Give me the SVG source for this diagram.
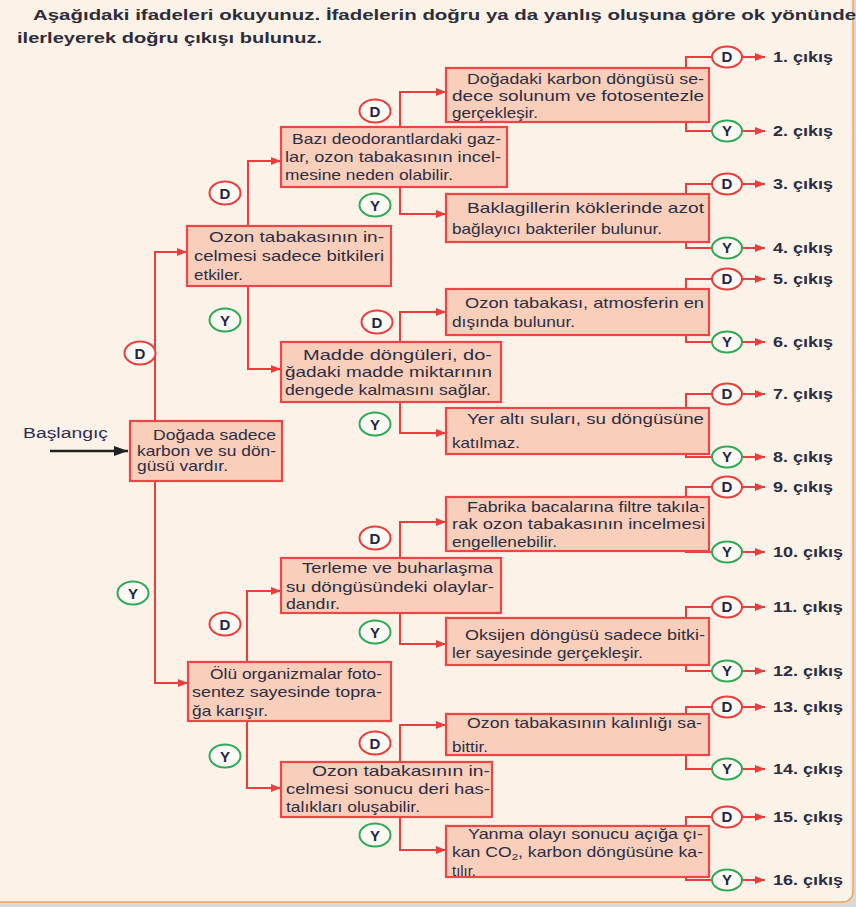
<svg xmlns="http://www.w3.org/2000/svg" width="856" height="907" viewBox="0 0 856 907">
<style>
.box{fill:#f9cfbc;stroke:#ee4646;stroke-width:2.2}
.t{font-family:"Liberation Sans",Arial,sans-serif;font-size:14.5px;fill:#2b2d42}
.ti{font-family:"Liberation Sans",Arial,sans-serif;font-size:15px;font-weight:bold;fill:#2d2d3a}
.ex{font-family:"Liberation Sans",Arial,sans-serif;font-size:15px;font-weight:bold;fill:#2b2d42}
.bl{font-family:"Liberation Sans",Arial,sans-serif;font-size:15px;font-weight:bold;fill:#1e2746;text-anchor:middle}
.c{fill:none;stroke:#ec3d3d;stroke-width:2}
.bd{fill:#fffaf4;stroke:#ec3d3d;stroke-width:2}
.by{fill:#fffaf4;stroke:#2eaa58;stroke-width:2}
</style>
<defs>
<marker id="ar" viewBox="0 0 10 8" refX="10" refY="4" markerWidth="10" markerHeight="8" markerUnits="userSpaceOnUse" orient="auto"><path d="M0,0 L10,4 L0,8 z" fill="#ec3d3d"/></marker>
<marker id="ab" viewBox="0 0 14 10" refX="14" refY="5" markerWidth="14" markerHeight="10" markerUnits="userSpaceOnUse" orient="auto"><path d="M0,0 L14,5 L0,10 z" fill="#222"/></marker>
</defs>
<rect x="0" y="0" width="856" height="907" fill="#d9d9d9"/>
<rect x="-10" y="-10" width="863" height="912" rx="10" fill="#fdf2e8" stroke="#f2a35e" stroke-width="1.5"/>

<g id="title">
<text class="ti" x="33" y="20" textLength="823" lengthAdjust="spacingAndGlyphs">Aşağıdaki ifadeleri okuyunuz. İfadelerin doğru ya da yanlış oluşuna göre ok yönünde</text>
<text class="ti" x="17" y="43" textLength="305" lengthAdjust="spacingAndGlyphs">ilerleyerek doğru çıkışı bulunuz.</text>
</g>

<g id="connectors">
<path d="M50,451 H128" fill="none" stroke="#222" stroke-width="2.5" marker-end="url(#ab)"/>
<path class="c" d="M155,421 V252 H187" marker-end="url(#ar)"/>
<path class="c" d="M155,481 V683 H188" marker-end="url(#ar)"/>
<path class="c" d="M248,226 V161 H281" marker-end="url(#ar)"/>
<path class="c" d="M248,286 V369 H281" marker-end="url(#ar)"/>
<path class="c" d="M247,662 V591 H281" marker-end="url(#ar)"/>
<path class="c" d="M247,721 V788 H281" marker-end="url(#ar)"/>
<path class="c" d="M400,127 V92 H446" marker-end="url(#ar)"/>
<path class="c" d="M400,187 V214 H446" marker-end="url(#ar)"/>
<path class="c" d="M400,342 V312 H446" marker-end="url(#ar)"/>
<path class="c" d="M400,402 V433 H446" marker-end="url(#ar)"/>
<path class="c" d="M400,558 V522 H446" marker-end="url(#ar)"/>
<path class="c" d="M400,613 V644 H446" marker-end="url(#ar)"/>
<path class="c" d="M400,762 V725 H446" marker-end="url(#ar)"/>
<path class="c" d="M400,817 V850 H446" marker-end="url(#ar)"/>
<path class="c" d="M686,68 V57 H712 M686,122 V131 H712"/>
<path class="c" d="M686,194 V184 H712 M686,242 V248 H712"/>
<path class="c" d="M686,289 V279 H712 M686,335 V342 H712"/>
<path class="c" d="M686,408 V394 H712 M686,454 V457 H712"/>
<path class="c" d="M686,497 V487 H712 M686,551 V552 H712"/>
<path class="c" d="M686,618 V607 H712 M686,665 V671 H712"/>
<path class="c" d="M686,714 V707 H712 M686,755 V769 H712"/>
<path class="c" d="M686,826 V817 H712 M686,877 V880 H712"/>
<path class="c" d="M742,57 H765" marker-end="url(#ar)"/>
<path class="c" d="M742,131 H765" marker-end="url(#ar)"/>
<path class="c" d="M742,184 H765" marker-end="url(#ar)"/>
<path class="c" d="M742,248 H765" marker-end="url(#ar)"/>
<path class="c" d="M742,279 H765" marker-end="url(#ar)"/>
<path class="c" d="M742,342 H765" marker-end="url(#ar)"/>
<path class="c" d="M742,394 H765" marker-end="url(#ar)"/>
<path class="c" d="M742,457 H765" marker-end="url(#ar)"/>
<path class="c" d="M742,487 H765" marker-end="url(#ar)"/>
<path class="c" d="M742,552 H765" marker-end="url(#ar)"/>
<path class="c" d="M742,607 H765" marker-end="url(#ar)"/>
<path class="c" d="M742,671 H765" marker-end="url(#ar)"/>
<path class="c" d="M742,707 H765" marker-end="url(#ar)"/>
<path class="c" d="M742,769 H765" marker-end="url(#ar)"/>
<path class="c" d="M742,817 H765" marker-end="url(#ar)"/>
<path class="c" d="M742,880 H765" marker-end="url(#ar)"/>
</g>

<g id="start">
<text x="23" y="438" font-family="Liberation Sans, Arial, sans-serif" font-size="15.5" fill="#2b2d52" textLength="85" lengthAdjust="spacingAndGlyphs">Başlangıç</text>
</g>

<g id="n0">
<rect class="box" x="130" y="421" width="152" height="60"/>
<text class="t" x="153" y="440" textLength="123" lengthAdjust="spacingAndGlyphs">Doğada sadece</text>
<text class="t" x="137" y="456" textLength="139" lengthAdjust="spacingAndGlyphs">karbon ve su dön-</text>
<text class="t" x="137" y="471" textLength="91" lengthAdjust="spacingAndGlyphs">güsü vardır.</text>
</g>
<g id="n1">
<rect class="box" x="187" y="226" width="204" height="60"/>
<text class="t" x="209" y="242" textLength="175" lengthAdjust="spacingAndGlyphs">Ozon tabakasının in-</text>
<text class="t" x="194" y="261" textLength="190" lengthAdjust="spacingAndGlyphs">celmesi sadece bitkileri</text>
<text class="t" x="194" y="280" textLength="49" lengthAdjust="spacingAndGlyphs">etkiler.</text>
</g>
<g id="n2">
<rect class="box" x="281" y="127" width="226" height="60"/>
<text class="t" x="292" y="144" textLength="209" lengthAdjust="spacingAndGlyphs">Bazı deodorantlardaki gaz-</text>
<text class="t" x="285" y="162" textLength="216" lengthAdjust="spacingAndGlyphs">lar, ozon tabakasının incel-</text>
<text class="t" x="285" y="180" textLength="168" lengthAdjust="spacingAndGlyphs">mesine neden olabilir.</text>
</g>
<g id="n3">
<rect class="box" x="446" y="68" width="263" height="54"/>
<text class="t" x="467" y="84" textLength="237" lengthAdjust="spacingAndGlyphs">Doğadaki karbon döngüsü se-</text>
<text class="t" x="452" y="101" textLength="252" lengthAdjust="spacingAndGlyphs">dece solunum ve fotosentezle</text>
<text class="t" x="452" y="118" textLength="86" lengthAdjust="spacingAndGlyphs">gerçekleşir.</text>
</g>
<g id="n4">
<rect class="box" x="446" y="194" width="263" height="48"/>
<text class="t" x="467" y="213" textLength="237" lengthAdjust="spacingAndGlyphs">Baklagillerin köklerinde azot</text>
<text class="t" x="452" y="234" textLength="210" lengthAdjust="spacingAndGlyphs">bağlayıcı bakteriler bulunur.</text>
</g>
<g id="n5">
<rect class="box" x="281" y="342" width="220" height="60"/>
<text class="t" x="303" y="360" textLength="189" lengthAdjust="spacingAndGlyphs">Madde döngüleri, do-</text>
<text class="t" x="285" y="377" textLength="207" lengthAdjust="spacingAndGlyphs">ğadaki madde miktarının</text>
<text class="t" x="285" y="395" textLength="206" lengthAdjust="spacingAndGlyphs">dengede kalmasını sağlar.</text>
</g>
<g id="n6">
<rect class="box" x="446" y="289" width="263" height="46"/>
<text class="t" x="465" y="308" textLength="239" lengthAdjust="spacingAndGlyphs">Ozon tabakası, atmosferin en</text>
<text class="t" x="452" y="327" textLength="123" lengthAdjust="spacingAndGlyphs">dışında bulunur.</text>
</g>
<g id="n7">
<rect class="box" x="446" y="408" width="263" height="46"/>
<text class="t" x="467" y="424" textLength="237" lengthAdjust="spacingAndGlyphs">Yer altı suları, su döngüsüne</text>
<text class="t" x="452" y="448" textLength="68" lengthAdjust="spacingAndGlyphs">katılmaz.</text>
</g>
<g id="n8">
<rect class="box" x="188" y="662" width="203" height="59"/>
<text class="t" x="210" y="679" textLength="172" lengthAdjust="spacingAndGlyphs">Ölü organizmalar foto-</text>
<text class="t" x="192" y="697" textLength="190" lengthAdjust="spacingAndGlyphs">sentez sayesinde topra-</text>
<text class="t" x="192" y="716" textLength="76" lengthAdjust="spacingAndGlyphs">ğa karışır.</text>
</g>
<g id="n9">
<rect class="box" x="281" y="558" width="220" height="55"/>
<text class="t" x="302" y="573" textLength="191" lengthAdjust="spacingAndGlyphs">Terleme ve buharlaşma</text>
<text class="t" x="286" y="592" textLength="208" lengthAdjust="spacingAndGlyphs">su döngüsündeki olaylar-</text>
<text class="t" x="286" y="609" textLength="54" lengthAdjust="spacingAndGlyphs">dandır.</text>
</g>
<g id="n10">
<rect class="box" x="446" y="497" width="263" height="54"/>
<text class="t" x="467" y="512" textLength="238" lengthAdjust="spacingAndGlyphs">Fabrika bacalarına filtre takıla-</text>
<text class="t" x="452" y="529" textLength="253" lengthAdjust="spacingAndGlyphs">rak ozon tabakasının incelmesi</text>
<text class="t" x="452" y="547" textLength="105" lengthAdjust="spacingAndGlyphs">engellenebilir.</text>
</g>
<g id="n11">
<rect class="box" x="446" y="618" width="263" height="47"/>
<text class="t" x="465" y="640" textLength="240" lengthAdjust="spacingAndGlyphs">Oksijen döngüsü sadece bitki-</text>
<text class="t" x="452" y="658" textLength="191" lengthAdjust="spacingAndGlyphs">ler sayesinde gerçekleşir.</text>
</g>
<g id="n12">
<rect class="box" x="281" y="762" width="211" height="55"/>
<text class="t" x="312" y="776" textLength="178" lengthAdjust="spacingAndGlyphs">Ozon tabakasının in-</text>
<text class="t" x="286" y="794" textLength="204" lengthAdjust="spacingAndGlyphs">celmesi sonucu deri has-</text>
<text class="t" x="286" y="812" textLength="134" lengthAdjust="spacingAndGlyphs">talıkları oluşabilir.</text>
</g>
<g id="n13">
<rect class="box" x="446" y="714" width="263" height="41"/>
<text class="t" x="467" y="728" textLength="235" lengthAdjust="spacingAndGlyphs">Ozon tabakasının kalınlığı sa-</text>
<text class="t" x="452" y="752" textLength="36" lengthAdjust="spacingAndGlyphs">bittir.</text>
</g>
<g id="n14">
<rect class="box" x="446" y="826" width="263" height="51"/>
<text class="t" x="468" y="839" textLength="235" lengthAdjust="spacingAndGlyphs">Yanma olayı sonucu açığa çı-</text>
<text class="t" x="452" y="857" textLength="251" lengthAdjust="spacingAndGlyphs">kan CO<tspan font-size="9.5" dy="3">2</tspan><tspan dy="-3">, karbon döngüsüne ka-</tspan></text>
<text class="t" x="452" y="876" textLength="24" lengthAdjust="spacingAndGlyphs">tılır.</text>
</g>

<g id="badges">
<g id="b-d0"><ellipse class="bd" cx="140" cy="353" rx="15.5" ry="11.5"/><text class="bl" x="140" y="358.5">D</text></g>
<g id="b-y0"><ellipse class="by" cx="133" cy="593" rx="15.5" ry="11.5"/><text class="bl" x="133" y="598.5">Y</text></g>
<g id="b-d1"><ellipse class="bd" cx="225" cy="193" rx="15.5" ry="11.5"/><text class="bl" x="225" y="198.5">D</text></g>
<g id="b-y1"><ellipse class="by" cx="225" cy="320" rx="15.5" ry="11.5"/><text class="bl" x="225" y="325.5">Y</text></g>
<g id="b-d2"><ellipse class="bd" cx="375" cy="111" rx="15.5" ry="11.5"/><text class="bl" x="375" y="116.5">D</text></g>
<g id="b-y2"><ellipse class="by" cx="375" cy="205" rx="15.5" ry="11.5"/><text class="bl" x="375" y="210.5">Y</text></g>
<g id="b-d3"><ellipse class="bd" cx="377" cy="322" rx="15.5" ry="11.5"/><text class="bl" x="377" y="327.5">D</text></g>
<g id="b-y3"><ellipse class="by" cx="375" cy="424" rx="15.5" ry="11.5"/><text class="bl" x="375" y="429.5">Y</text></g>
<g id="b-d4"><ellipse class="bd" cx="375" cy="538" rx="15.5" ry="11.5"/><text class="bl" x="375" y="543.5">D</text></g>
<g id="b-y4"><ellipse class="by" cx="375" cy="632" rx="15.5" ry="11.5"/><text class="bl" x="375" y="637.5">Y</text></g>
<g id="b-d5"><ellipse class="bd" cx="225" cy="624" rx="15.5" ry="11.5"/><text class="bl" x="225" y="629.5">D</text></g>
<g id="b-y5"><ellipse class="by" cx="225" cy="756" rx="15.5" ry="11.5"/><text class="bl" x="225" y="761.5">Y</text></g>
<g id="b-d6"><ellipse class="bd" cx="375" cy="743" rx="15.5" ry="11.5"/><text class="bl" x="375" y="748.5">D</text></g>
<g id="b-y6"><ellipse class="by" cx="375" cy="835" rx="15.5" ry="11.5"/><text class="bl" x="375" y="840.5">Y</text></g>
</g>

<g id="exits">
<g id="e1"><ellipse class="bd" cx="727" cy="57" rx="15" ry="10.5"/><text class="bl" x="727" y="62">D</text><text class="ex" x="773" y="62" textLength="60" lengthAdjust="spacingAndGlyphs">1. çıkış</text></g>
<g id="e2"><ellipse class="by" cx="727" cy="131" rx="15" ry="10.5"/><text class="bl" x="727" y="136">Y</text><text class="ex" x="773" y="136" textLength="60" lengthAdjust="spacingAndGlyphs">2. çıkış</text></g>
<g id="e3"><ellipse class="bd" cx="727" cy="184" rx="15" ry="10.5"/><text class="bl" x="727" y="189">D</text><text class="ex" x="773" y="189" textLength="60" lengthAdjust="spacingAndGlyphs">3. çıkış</text></g>
<g id="e4"><ellipse class="by" cx="727" cy="248" rx="15" ry="10.5"/><text class="bl" x="727" y="253">Y</text><text class="ex" x="773" y="253" textLength="60" lengthAdjust="spacingAndGlyphs">4. çıkış</text></g>
<g id="e5"><ellipse class="bd" cx="727" cy="279" rx="15" ry="10.5"/><text class="bl" x="727" y="284">D</text><text class="ex" x="773" y="284" textLength="60" lengthAdjust="spacingAndGlyphs">5. çıkış</text></g>
<g id="e6"><ellipse class="by" cx="727" cy="342" rx="15" ry="10.5"/><text class="bl" x="727" y="347">Y</text><text class="ex" x="773" y="347" textLength="60" lengthAdjust="spacingAndGlyphs">6. çıkış</text></g>
<g id="e7"><ellipse class="bd" cx="727" cy="394" rx="15" ry="10.5"/><text class="bl" x="727" y="399">D</text><text class="ex" x="773" y="399" textLength="60" lengthAdjust="spacingAndGlyphs">7. çıkış</text></g>
<g id="e8"><ellipse class="by" cx="727" cy="457" rx="15" ry="10.5"/><text class="bl" x="727" y="462">Y</text><text class="ex" x="773" y="462" textLength="60" lengthAdjust="spacingAndGlyphs">8. çıkış</text></g>
<g id="e9"><ellipse class="bd" cx="727" cy="487" rx="15" ry="10.5"/><text class="bl" x="727" y="492">D</text><text class="ex" x="773" y="492" textLength="60" lengthAdjust="spacingAndGlyphs">9. çıkış</text></g>
<g id="e10"><ellipse class="by" cx="727" cy="552" rx="15" ry="10.5"/><text class="bl" x="727" y="557">Y</text><text class="ex" x="773" y="557" textLength="70" lengthAdjust="spacingAndGlyphs">10. çıkış</text></g>
<g id="e11"><ellipse class="bd" cx="727" cy="607" rx="15" ry="10.5"/><text class="bl" x="727" y="612">D</text><text class="ex" x="773" y="612" textLength="70" lengthAdjust="spacingAndGlyphs">11. çıkış</text></g>
<g id="e12"><ellipse class="by" cx="727" cy="671" rx="15" ry="10.5"/><text class="bl" x="727" y="676">Y</text><text class="ex" x="773" y="676" textLength="70" lengthAdjust="spacingAndGlyphs">12. çıkış</text></g>
<g id="e13"><ellipse class="bd" cx="727" cy="707" rx="15" ry="10.5"/><text class="bl" x="727" y="712">D</text><text class="ex" x="773" y="712" textLength="70" lengthAdjust="spacingAndGlyphs">13. çıkış</text></g>
<g id="e14"><ellipse class="by" cx="727" cy="769" rx="15" ry="10.5"/><text class="bl" x="727" y="774">Y</text><text class="ex" x="773" y="774" textLength="70" lengthAdjust="spacingAndGlyphs">14. çıkış</text></g>
<g id="e15"><ellipse class="bd" cx="727" cy="817" rx="15" ry="10.5"/><text class="bl" x="727" y="822">D</text><text class="ex" x="773" y="822" textLength="70" lengthAdjust="spacingAndGlyphs">15. çıkış</text></g>
<g id="e16"><ellipse class="by" cx="727" cy="880" rx="15" ry="10.5"/><text class="bl" x="727" y="885">Y</text><text class="ex" x="773" y="885" textLength="70" lengthAdjust="spacingAndGlyphs">16. çıkış</text></g>
</g>
</svg>
